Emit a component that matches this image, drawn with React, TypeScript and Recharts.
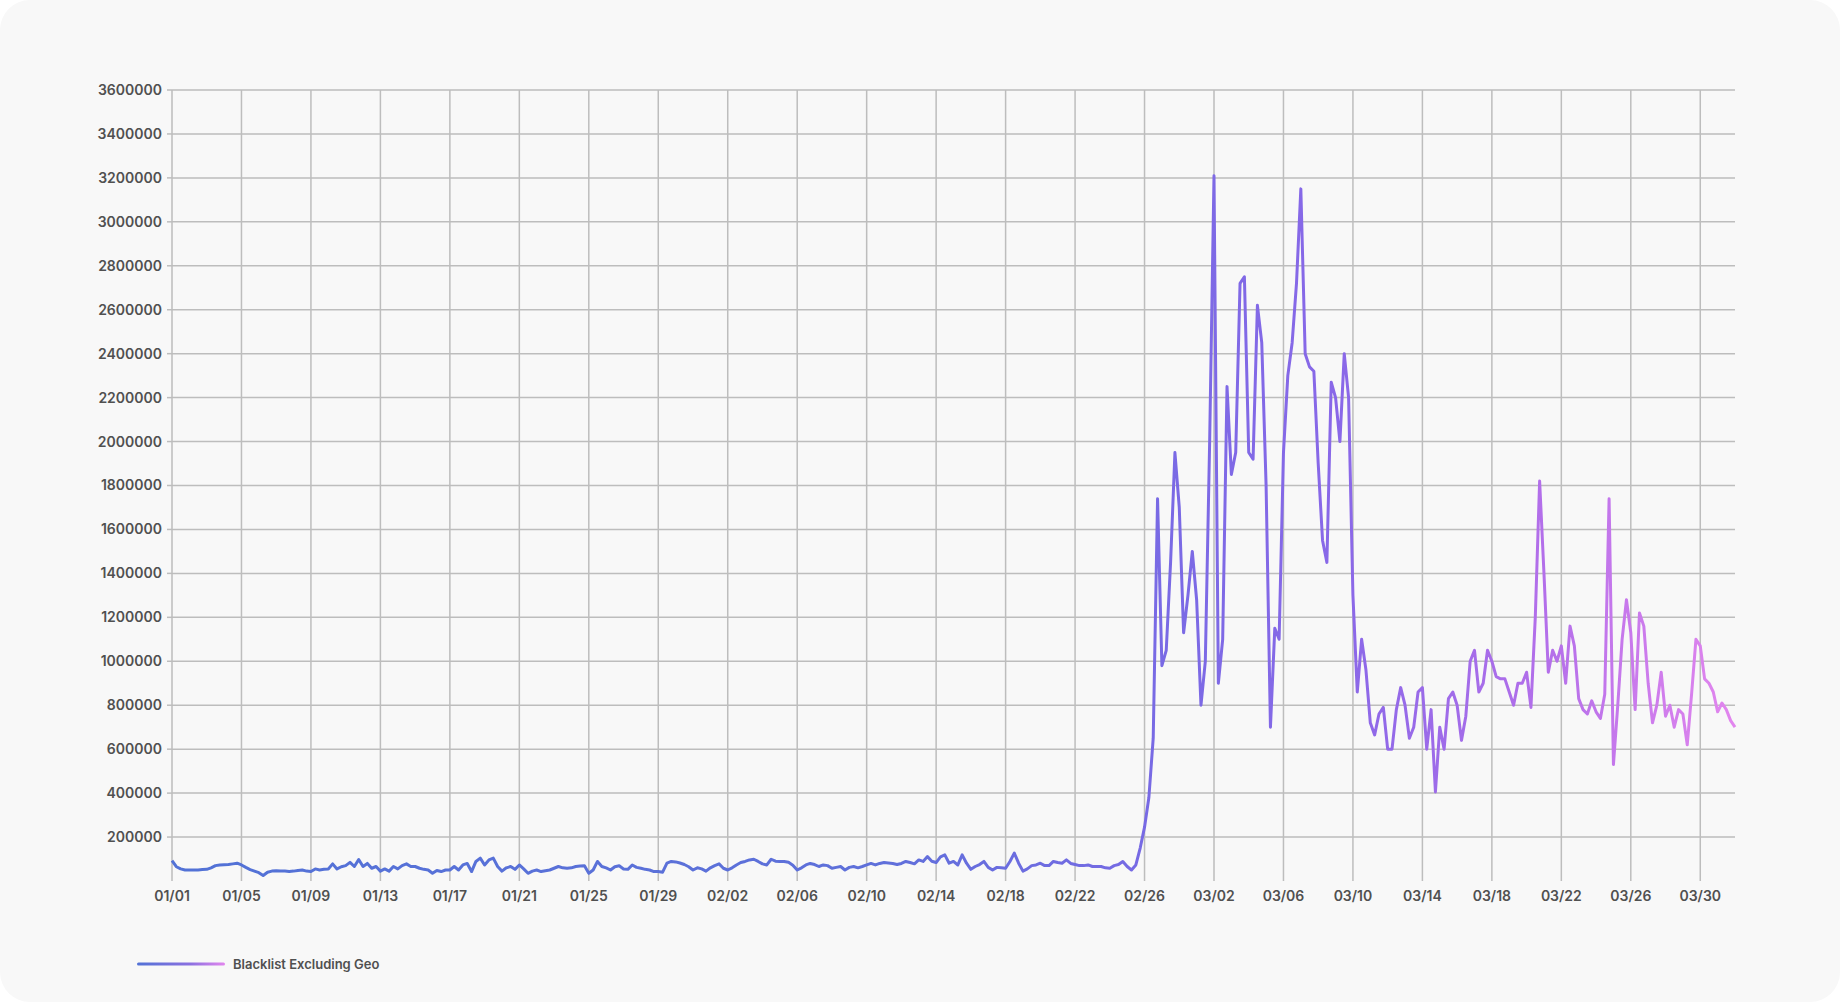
import React from 'react';
import { LineChart, Line, XAxis, YAxis, CartesianGrid } from 'recharts';

// x-axis tick labels, one every 4 days starting 01/01
const tickLabels = ['01/01','01/05','01/09','01/13','01/17','01/21','01/25','01/29','02/02','02/06','02/10','02/14','02/18','02/22','02/26','03/02','03/06','03/10','03/14','03/18','03/22','03/26','03/30'];

const yTicks = [200000,400000,600000,800000,1000000,1200000,1400000,1600000,1800000,2000000,2200000,2400000,2600000,2800000,3000000,3200000,3400000,3600000];

const seriesName = 'Blacklist Excluding Geo';

// 6-hourly samples (4 per day) from 01/01 00:00 to 04/01 00:00
const blacklistValues = [
  93000, 65000, 55000, 50000,
  50000, 50000, 50000, 52000,
  53000, 60000, 70000, 73000,
  74000, 75000, 78000, 81000,
  73000, 62000, 52000, 45000,
  38000, 25000, 40000, 45000,
  47000, 46000, 45000, 43000,
  45000, 48000, 50000, 45000,
  43000, 55000, 50000, 53000,
  55000, 78000, 55000, 65000,
  70000, 85000, 66000, 98000,
  66000, 80000, 58000, 66000,
  45000, 55000, 45000, 66000,
  55000, 70000, 78000, 66000,
  66000, 58000, 53000, 50000,
  35000, 48000, 43000, 50000,
  50000, 66000, 50000, 73000,
  80000, 43000, 89000, 104000,
  73000, 96000, 104000, 66000,
  45000, 60000, 66000, 53000,
  73000, 55000, 35000, 45000,
  50000, 43000, 47000, 50000,
  58000, 66000, 60000, 58000,
  60000, 66000, 68000, 69000,
  35000, 50000, 89000, 66000,
  60000, 50000, 65000, 69000,
  55000, 53000, 73000, 62000,
  58000, 53000, 50000, 43000,
  43000, 40000, 81000, 89000,
  87000, 82000, 75000, 65000,
  50000, 60000, 55000, 45000,
  60000, 70000, 78000, 58000,
  50000, 60000, 73000, 84000,
  89000, 96000, 99000, 89000,
  78000, 73000, 99000, 90000,
  89000, 89000, 85000, 72000,
  50000, 60000, 73000, 80000,
  75000, 66000, 73000, 70000,
  58000, 62000, 66000, 50000,
  62000, 66000, 60000, 66000,
  73000, 80000, 73000, 80000,
  84000, 82000, 80000, 75000,
  80000, 89000, 84000, 78000,
  96000, 89000, 111000, 90000,
  84000, 110000, 119000, 81000,
  89000, 73000, 119000, 81000,
  53000, 66000, 75000, 89000,
  62000, 50000, 62000, 60000,
  58000, 89000, 127000, 81000,
  45000, 55000, 70000, 73000,
  81000, 70000, 70000, 89000,
  84000, 81000, 96000, 80000,
  75000, 70000, 70000, 73000,
  66000, 66000, 66000, 60000,
  58000, 70000, 75000, 89000,
  66000, 50000, 73000, 150000,
  245000, 380000, 650000, 1740000,
  980000, 1050000, 1450000, 1950000,
  1700000, 1130000, 1300000, 1500000,
  1280000, 800000, 1000000, 2000000,
  3210000, 900000, 1100000, 2250000,
  1850000, 1950000, 2720000, 2750000,
  1950000, 1920000, 2620000, 2450000,
  1800000, 700000, 1150000, 1100000,
  1950000, 2300000, 2450000, 2720000,
  3150000, 2400000, 2340000, 2320000,
  1900000, 1550000, 1450000, 2270000,
  2200000, 2000000, 2400000, 2200000,
  1300000, 860000, 1100000, 960000,
  720000, 665000, 760000, 790000,
  600000, 600000, 780000, 880000,
  800000, 650000, 700000, 860000,
  880000, 600000, 780000, 405000,
  700000, 600000, 830000, 860000,
  800000, 640000, 750000, 1000000,
  1050000, 860000, 900000, 1050000,
  1000000, 930000, 920000, 920000,
  860000, 800000, 900000, 900000,
  950000, 790000, 1200000, 1820000,
  1400000, 950000, 1050000, 1000000,
  1070000, 900000, 1160000, 1070000,
  830000, 780000, 760000, 820000,
  770000, 740000, 850000, 1740000,
  530000, 800000, 1100000, 1280000,
  1130000, 780000, 1220000, 1160000,
  900000, 720000, 800000, 950000,
  750000, 800000, 700000, 780000,
  760000, 620000, 850000, 1100000,
  1070000, 920000, 900000, 860000,
  770000, 810000, 780000, 730000,
  700000,
];

const SAMPLES_PER_DAY = 4;
const DAYS_PER_TICK = 4;

const data = blacklistValues.map((v, i) => ({ t: i / SAMPLES_PER_DAY, value: v }));
const xTicks = tickLabels.map((_, i) => i * DAYS_PER_TICK);
const lastT = (blacklistValues.length - 1) / SAMPLES_PER_DAY;

const gradStops = [
  { offset: '0%', color: '#5272d6' },
  { offset: '45%', color: '#5f70da' },
  { offset: '62%', color: '#776ae4' },
  { offset: '75%', color: '#8a68e8' },
  { offset: '88%', color: '#b46fea' },
  { offset: '100%', color: '#e286ee' },
];

const GRID = '#bdbdbd';
const FONT = 'Inter, "Noto Sans", sans-serif';
const tickStyle = { fontSize: 14, fontWeight: 600, fill: '#505050', fontFamily: FONT };

export default function App() {
  return (
    <div style={{ width: 1840, height: 1002, background: '#ffffff', position: 'relative', overflow: 'hidden' }}>
      <style>{'body{margin:0;}'}</style>
      <div style={{ position: 'absolute', left: 0, top: 0, width: 1840, height: 1002, background: '#f8f8f8', borderRadius: 30 }} />
      <div style={{ position: 'absolute', left: 0, top: 0 }}>
        <LineChart width={1840} height={1002} data={data} margin={{ top: 90, right: 105, bottom: 0, left: 0 }}>
          <defs>
            <linearGradient id="lineGrad" x1="0" y1="0" x2="1" y2="0">
              {gradStops.map((s) => (
                <stop key={s.offset} offset={s.offset} stopColor={s.color} />
              ))}
            </linearGradient>
          </defs>
          <CartesianGrid stroke={GRID} strokeWidth={1.5} syncWithTicks />
          <XAxis
            dataKey="t"
            type="number"
            domain={[0, lastT]}
            ticks={xTicks}
            tickFormatter={(t: number) => tickLabels[Math.round(t / DAYS_PER_TICK)]}
            axisLine={false}
            tickLine={false}
            tickSize={0}
            tickMargin={10}
            height={121}
            interval={0}
            tick={tickStyle}
          />
          <YAxis
            type="number"
            domain={[0, 3600000]}
            ticks={yTicks}
            width={172}
            axisLine={false}
            tickLine={{ stroke: GRID, strokeWidth: 1.5 }}
            tickSize={5}
            tickMargin={5}
            interval={0}
            tick={tickStyle}
          />
          <Line
            type="linear"
            dataKey="value"
            name={seriesName}
            stroke="url(#lineGrad)"
            strokeWidth={3}
            dot={false}
            activeDot={false}
            isAnimationActive={false}
            strokeLinejoin="round"
          />
        </LineChart>
      </div>
      <div style={{ position: 'absolute', left: 137, top: 954, display: 'flex', alignItems: 'center', height: 20 }}>
        <svg width={88} height={6} style={{ display: 'block' }}>
          <defs>
            <linearGradient id="legendGrad" x1="0" y1="0" x2="1" y2="0">
              <stop offset="0%" stopColor="#5272d6" />
              <stop offset="60%" stopColor="#8a70e0" />
              <stop offset="100%" stopColor="#e286ee" />
            </linearGradient>
          </defs>
          <rect x={0} y={1.5} width={88} height={3} rx={1.5} fill="url(#legendGrad)" />
        </svg>
        <span style={{ marginLeft: 8, fontSize: 13, fontWeight: 600, color: '#505050', fontFamily: FONT, whiteSpace: 'nowrap' }}>
          {seriesName}
        </span>
      </div>
    </div>
  );
}
